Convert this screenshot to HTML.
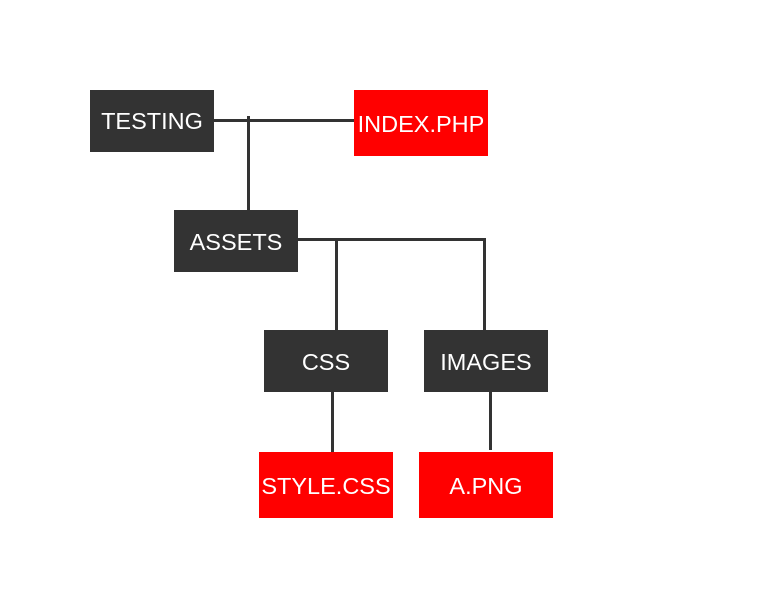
<!DOCTYPE html>
<html><head><style>
body{margin:0;width:774px;height:610px;background:#fff;position:relative;overflow:hidden;font-family:"Liberation Sans",Arial,sans-serif}
.b{position:absolute;color:#fff;font-size:23.5px;display:flex;align-items:center;justify-content:center;white-space:nowrap;padding-top:2px;box-sizing:border-box}
.d{background:#333}.r{background:#f00}
.l{position:absolute;background:#333}
</style></head><body>
<div class="l" style="left:214px;top:119px;width:140px;height:3px"></div>
<div class="l" style="left:247px;top:116px;width:3px;height:94px"></div>
<div class="l" style="left:298px;top:238px;width:188px;height:3px"></div>
<div class="l" style="left:335px;top:240px;width:3px;height:90px"></div>
<div class="l" style="left:483px;top:240px;width:3px;height:90px"></div>
<div class="l" style="left:331px;top:392px;width:3px;height:70px"></div>
<div class="l" style="left:489px;top:392px;width:3px;height:58px"></div>
<div class="b d" style="left:90px;top:90px;width:124px;height:62px;padding-top:0">TESTING</div>
<div class="b r" style="left:354px;top:90px;width:134px;height:66px">INDEX.PHP</div>
<div class="b d" style="left:174px;top:210px;width:124px;height:62px">ASSETS</div>
<div class="b d" style="left:264px;top:330px;width:124px;height:62px">CSS</div>
<div class="b d" style="left:424px;top:330px;width:124px;height:62px">IMAGES</div>
<div class="b r" style="left:259px;top:452px;width:134px;height:66px">STYLE.CSS</div>
<div class="b r" style="left:419px;top:452px;width:134px;height:66px">A.PNG</div>
</body></html>
